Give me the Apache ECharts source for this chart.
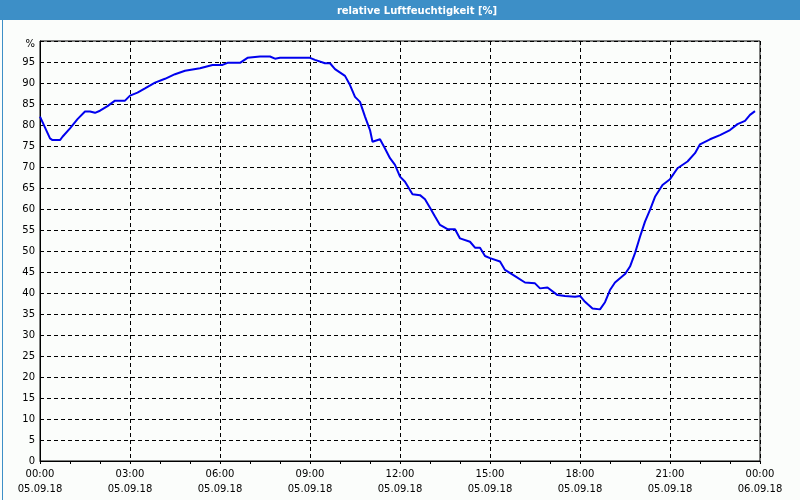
<!DOCTYPE html>
<html>
<head>
<meta charset="utf-8">
<script src="https://cdn.jsdelivr.net/npm/echarts@6/dist/echarts.min.js"></script>
<style>
html,body{margin:0;padding:0;background:#fbfdfb;}
#c{width:800px;height:500px;}
</style>
</head>
<body>
<div id="c"></div>
<script>
const titleText = 'relative Luftfeuchtigkeit [%]';
const dayStart = '05.09.18';
const dayEnd = '06.09.18';
const times = ['00:00','00:20','00:25','00:40','00:45','01:00','01:15','01:30','01:40','01:50','02:00','02:15','02:30','02:50','03:00','03:15','03:30','03:50','04:10','04:30','04:50','05:20','05:45','06:05','06:15','06:40','06:55','07:20','07:40','07:50','08:00','09:00','09:10','09:30','09:40','09:50','10:10','10:20','10:30','10:40','10:50','11:00','11:05','11:20','11:30','11:40','11:50','12:00','12:10','12:25','12:40','12:50','13:00','13:10','13:20','13:35','13:50','14:00','14:20','14:30','14:40','14:50','15:00','15:20','15:30','15:50','16:10','16:30','16:40','16:55','17:15','17:30','17:50','18:00','18:10','18:25','18:40','18:50','19:00','19:10','19:30','19:40','19:50','20:00','20:10','20:20','20:30','20:45','21:00','21:15','21:35','21:50','22:00','22:20','22:40','23:00','23:15','23:30','23:40','23:50'];
const humidity = [82.0,76.8,76.4,76.4,77.2,79.2,81.4,83.2,83.2,82.9,83.4,84.5,85.8,85.8,87.0,87.7,88.7,90.1,91.0,92.1,92.9,93.5,94.3,94.3,94.8,94.8,96.0,96.3,96.3,95.8,96.0,96.0,95.5,94.7,94.7,93.3,91.7,89.5,86.7,85.5,82.0,78.8,76.0,76.6,74.4,72.1,70.5,67.7,66.5,63.5,63.3,62.3,60.3,58.2,56.2,55.2,55.2,53.0,52.2,50.8,50.8,48.8,48.3,47.5,45.5,44.0,42.5,42.3,41.1,41.3,39.5,39.3,39.1,39.3,37.9,36.3,36.1,37.8,40.7,42.5,44.5,46.3,49.5,53.4,57.0,59.8,62.9,65.7,67.1,69.7,71.3,73.3,75.4,76.6,77.6,78.8,80.2,81.0,82.4,83.3];

function toMin(t){const p=t.split(':');return (+p[0])*60+(+p[1]);}
const seriesData = times.map((t,i)=>[toMin(t), humidity[i]]);

const chart = echarts.init(document.getElementById('c'), null, {renderer:'canvas'});
const font = 'DejaVu Sans';
chart.setOption({
  backgroundColor:'#fbfdfb',
  animation:false,
  graphic:[
    {type:'rect', left:0, top:0, shape:{width:800,height:20}, style:{fill:'#3d8fc7'}, z:10},
    {type:'rect', left:0, top:0, shape:{x:0.5,y:0.5,width:799,height:499}, style:{fill:'none',stroke:'#3d8fc7',lineWidth:1}, z:10},
    {type:'text', x:417, y:11, z:11, style:{text:titleText, fill:'#ffffff', font:'bold 10px "DejaVu Sans"', textAlign:'center', textVerticalAlign:'middle'}}
  ],
  grid:{left:40, right:40, top:41, bottom:39, show:true, borderColor:'#000', borderWidth:1, backgroundColor:'transparent'},
  xAxis:{
    type:'value', min:0, max:1440, interval:180,
    axisLine:{show:true, lineStyle:{color:'#000', width:1}},
    axisTick:{show:true, length:3, lineStyle:{color:'#000'}},
    minorTick:{show:true, splitNumber:3, length:3, lineStyle:{color:'#000'}},
    splitLine:{show:true, lineStyle:{color:'#000', type:[4,3], width:1}},
    axisLabel:{
      color:'#000', fontFamily:font, fontSize:10, lineHeight:15, margin:6,
      formatter:function(v){
        const h = Math.round(v/60)%24;
        const hh = (h<10?'0':'')+h+':00';
        return hh+'\n'+(v>=1440?dayEnd:dayStart);
      }
    }
  },
  yAxis:{
    type:'value', min:0, max:100, interval:5,
    axisLine:{show:true, lineStyle:{color:'#000', width:1}},
    axisTick:{show:false},
    splitLine:{show:true, lineStyle:{color:'#000', type:[4,3], width:1}},
    axisLabel:{
      color:'#000', fontFamily:font, fontSize:10, margin:5,
      formatter:function(v){return v===100?'{p|%}':String(v);},
      rich:{p:{fontFamily:font, fontSize:10, color:'#000', padding:[7,0,0,0]}}
    }
  },
  series:[{
    type:'line', data:seriesData, showSymbol:false, symbol:'none',
    lineStyle:{color:'#0000ee', width:2}, z:5
  }]
});
</script>
</body>
</html>
